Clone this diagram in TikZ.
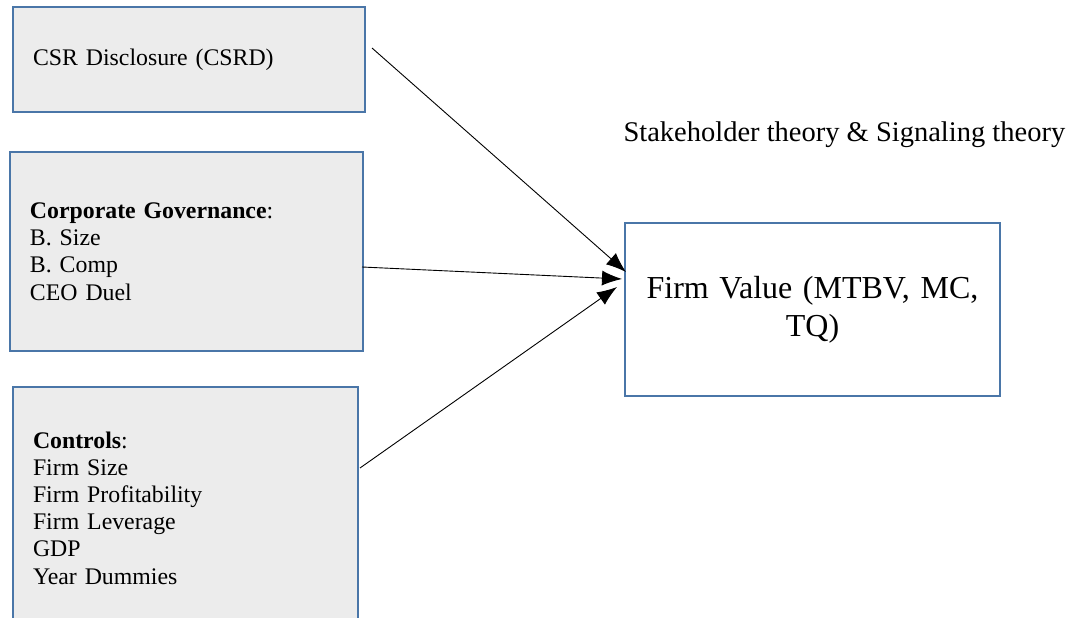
\documentclass[tikz,border=0pt]{standalone}
\usepackage{fontspec}
\setmainfont{Liberation Serif}
\usepackage{tikz}
\usetikzlibrary{arrows.meta}
\definecolor{boxblue}{RGB}{74,118,168}
\definecolor{boxgray}{RGB}{236,236,236}

\begin{document}
\begin{tikzpicture}[x=1pt,y=-1pt,->,>={Latex[length=20pt,width=15pt]},
    box node/.style={draw=boxblue,line width=2pt,fill=boxgray,anchor=north west,
      align=left,inner xsep=20pt,inner ysep=0pt,outer sep=0pt,
      font=\fontsize{23.8}{27.2}\selectfont},
    value node/.style={draw=boxblue,line width=2pt,fill=white,anchor=north west,
      align=center,inner xsep=10pt,inner ysep=0pt,outer sep=0pt,
      font=\fontsize{32}{38}\selectfont}]

  \useasboundingbox (0,0) rectangle (1080,618);

  \node[box node,text width=312pt,minimum width=352pt,minimum height=105pt] (csrd) at (13,7) {CSR Disclosure (CSRD)};
  \node[box node,text width=313pt,minimum width=353pt,minimum height=199pt] (gov) at (10,152)
    {\textbf{Corporate Governance}:\\B. Size\\B. Comp\\CEO Duel};
  \node[box node,text width=305pt,minimum width=345pt,minimum height=242pt] (ctrl) at (13,387)
    {\textbf{Controls}:\\Firm Size\\Firm Profitability\\Firm Leverage\\GDP\\Year Dummies};
  \node[value node,text width=355pt,minimum width=375pt,minimum height=173pt] (value) at (625,223)
    {Firm Value (MTBV, MC,\\TQ)};
  \node[anchor=base west,font=\fontsize{28.5}{34}\selectfont] (theory) at (620,142)
    {Stakeholder theory \& Signaling theory};

  % arrow ends
  \coordinate (from1) at ([xshift=7pt,yshift=11.5pt]csrd.east);
  \coordinate (from2) at ([xshift=-1pt,yshift=-15.5pt]gov.east);
  \coordinate (from3) at ([xshift=2pt,yshift=40pt]ctrl.east);
  \coordinate (to1) at ([xshift=1pt,yshift=37.5pt]value.west);
  \coordinate (to2) at ([xshift=-3pt,yshift=30.5pt]value.west);
  \coordinate (to3) at ([xshift=-8pt,yshift=22.5pt]value.west);

  \path[line width=0.9pt]
  (from1) edge (to1)
  (from2) edge (to2)
  (from3) edge (to3);
\end{tikzpicture}
\end{document}
